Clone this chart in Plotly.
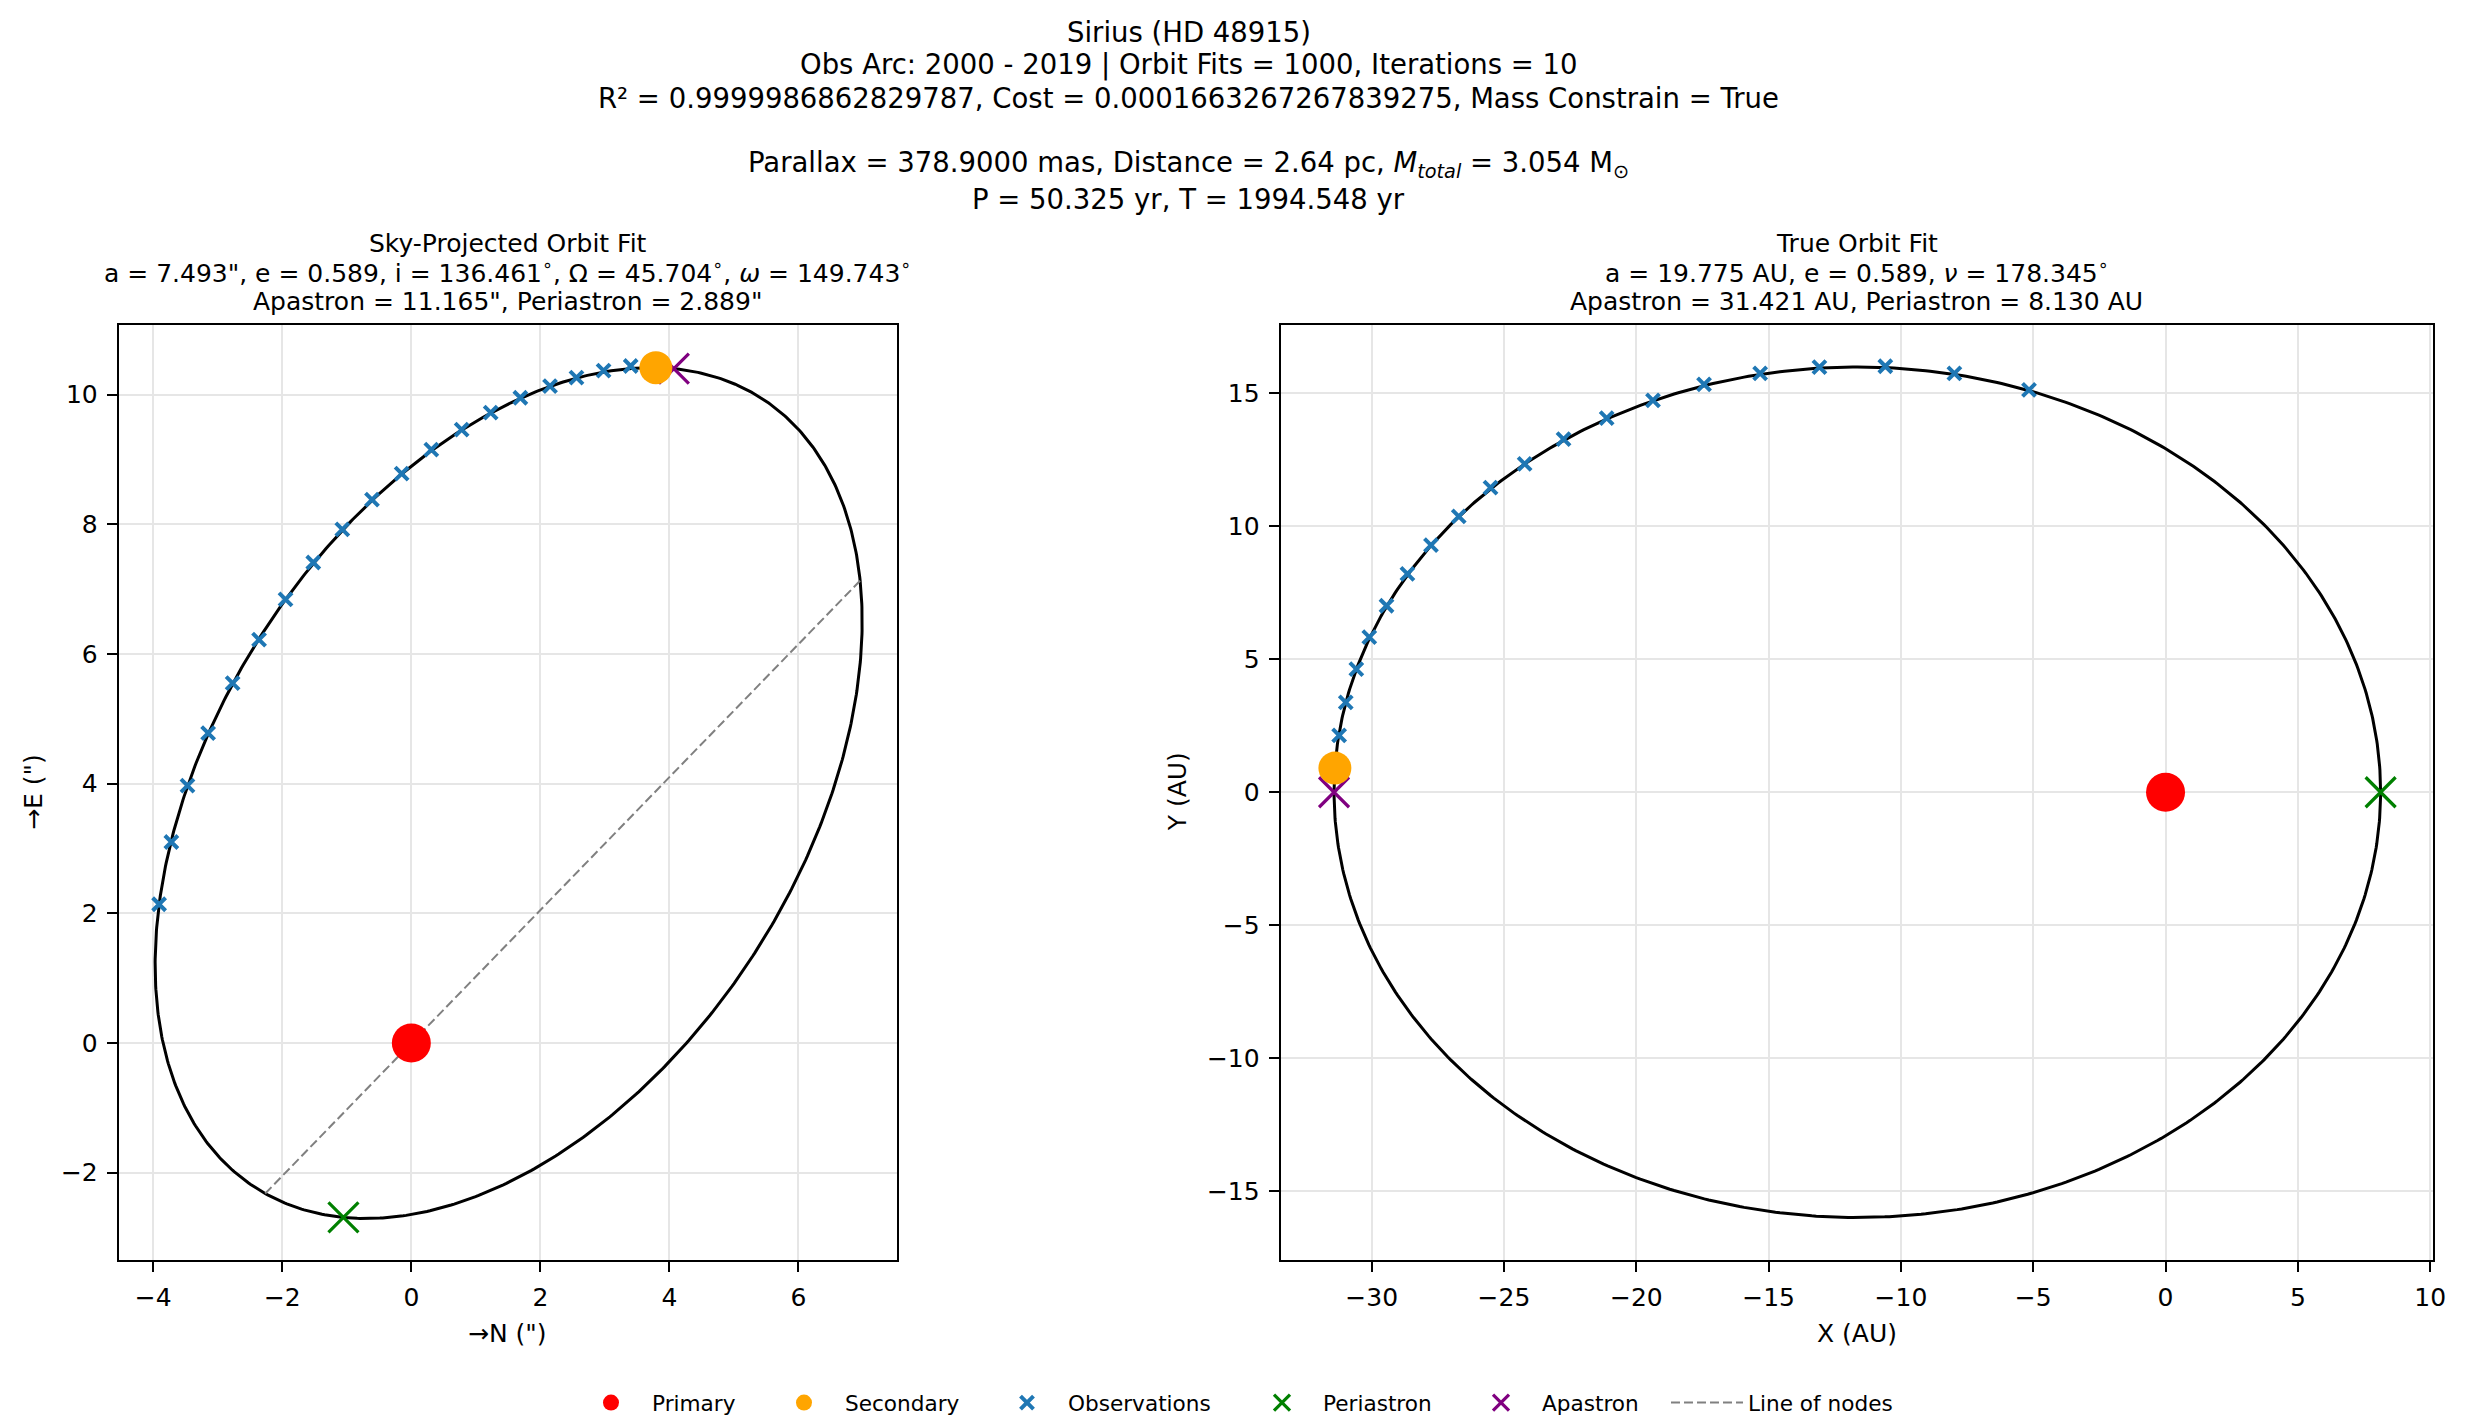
import numpy as np
import plotly.graph_objects as go

# ---------------- data ----------------
star_name = "Sirius (HD 48915)"
obs_arc = (2000, 2019)
orbit_fits = 1000
iterations = 10
r_squared = "0.9999986862829787"
cost_value = "0.0001663267267839275"
mass_constrain = True
parallax_mas = 378.9
distance_pc = 2.64
m_total = 3.054
period_yr = 50.325
t_peri_yr = 1994.548

# orbital elements
a_arcsec = 7.493
a_au = 19.775
ecc = 0.589
inc_deg = 136.461
Omega_deg = 45.704
omega_deg = 149.743
nu_deg = 178.345
apastron_arcsec = 11.165
periastron_arcsec = 2.889
apastron_au = 31.421
periastron_au = 8.130

# observations, sky plane (arcsec)
obs_north = [-3.91, -3.72, -3.47, -3.15, -2.77, -2.36, -1.95, -1.52, -1.07, -0.61,
             -0.15, 0.31, 0.78, 1.23, 1.69, 2.15, 2.56, 2.98, 3.40]
obs_east = [2.14, 3.10, 3.97, 4.78, 5.55, 6.22, 6.84, 7.41, 7.92, 8.38,
            8.78, 9.15, 9.46, 9.72, 9.95, 10.13, 10.26, 10.37, 10.44]

# observations, true orbit plane (AU)
obs_x_au = [-31.23, -30.98, -30.58, -30.09, -29.44, -28.65, -27.76, -26.71, -25.51, -24.22,
            -22.75, -21.12, -19.37, -17.44, -15.32, -13.08, -10.59, -7.98, -5.16]
obs_y_au = [2.14, 3.38, 4.63, 5.83, 7.01, 8.21, 9.29, 10.37, 11.45, 12.34,
            13.27, 14.06, 14.73, 15.33, 15.74, 15.98, 16.01, 15.74, 15.12]

primary_pos = (0.0, 0.0)

# ---------------- model curves from the elements ----------------
inc = np.radians(inc_deg)
Om = np.radians(Omega_deg)
om = np.radians(omega_deg)
A = np.cos(om) * np.cos(Om) - np.sin(om) * np.sin(Om) * np.cos(inc)
B = np.cos(om) * np.sin(Om) + np.sin(om) * np.cos(Om) * np.cos(inc)
F = -np.sin(om) * np.cos(Om) - np.cos(om) * np.sin(Om) * np.cos(inc)
G = -np.sin(om) * np.sin(Om) + np.cos(om) * np.cos(Om) * np.cos(inc)


def plane_from_nu(nu):
    r = (1 - ecc ** 2) / (1 + ecc * np.cos(nu))
    return r * np.cos(nu), r * np.sin(nu)


def sky(X, Y):
    return a_arcsec * (A * X + F * Y), a_arcsec * (B * X + G * Y)


E = np.linspace(0, 2 * np.pi, 721)
Xu = np.cos(E) - ecc
Yu = np.sqrt(1 - ecc ** 2) * np.sin(E)
sky_n, sky_e = sky(Xu, Yu)
true_x, true_y = a_au * Xu, a_au * Yu

peri_n, peri_e = sky(1 - ecc, 0.0)
apo_n, apo_e = sky(-(1 + ecc), 0.0)
nu_s = np.radians(nu_deg)
Xs, Ys = plane_from_nu(nu_s)
sec_n, sec_e = sky(Xs, Ys)
sec_x, sec_y = a_au * Xs, a_au * Ys

node_pts = [sky(*plane_from_nu(v)) for v in (np.pi - om, -om)]
node_n = [p[0] for p in node_pts]
node_e = [p[1] for p in node_pts]

# ---------------- figure ----------------
W, H = 2481, 1427
FONT = "DejaVu Sans"
OBS_C = "#1f77b4"

fig = go.Figure()

# left panel
fig.add_trace(go.Scatter(x=sky_n, y=sky_e, mode="lines", line=dict(color="black", width=3),
                         showlegend=False, hoverinfo="skip", xaxis="x", yaxis="y"))
fig.add_trace(go.Scatter(x=node_n, y=node_e, mode="lines", name="Line of nodes", legendrank=6, legendwidth=165,
                         line=dict(color="#808080", width=2, dash="9px,4px"), xaxis="x", yaxis="y"))
fig.add_trace(go.Scatter(x=obs_north, y=obs_east, mode="markers", name="Observations", legendrank=3, legendwidth=168,
                         marker=dict(symbol="x-thin", size=13, color=OBS_C, line=dict(width=4, color=OBS_C)),
                         xaxis="x", yaxis="y"))
fig.add_trace(go.Scatter(x=[peri_n], y=[peri_e], mode="markers", name="Periastron", legendrank=4, legendwidth=132,
                         marker=dict(symbol="x-thin", size=30, color="green", line=dict(width=3.2, color="green")),
                         xaxis="x", yaxis="y"))
fig.add_trace(go.Scatter(x=[apo_n], y=[apo_e], mode="markers", name="Apastron", legendrank=5, legendwidth=119,
                         marker=dict(symbol="x-thin", size=30, color="purple", line=dict(width=3.2, color="purple")),
                         xaxis="x", yaxis="y"))
fig.add_trace(go.Scatter(x=[primary_pos[0]], y=[primary_pos[1]], mode="markers", name="Primary", legendrank=1,
                         legendwidth=106,
                         marker=dict(symbol="circle", size=39, color="red", line=dict(width=0)),
                         xaxis="x", yaxis="y"))
fig.add_trace(go.Scatter(x=[sec_n], y=[sec_e], mode="markers", name="Secondary", legendrank=2, legendwidth=136,
                         marker=dict(symbol="circle", size=33, color="orange", line=dict(width=0)),
                         xaxis="x", yaxis="y"))

# right panel
fig.add_trace(go.Scatter(x=true_x, y=true_y, mode="lines", line=dict(color="black", width=3),
                         showlegend=False, hoverinfo="skip", xaxis="x2", yaxis="y2"))
fig.add_trace(go.Scatter(x=obs_x_au, y=obs_y_au, mode="markers", showlegend=False,
                         marker=dict(symbol="x-thin", size=13, color=OBS_C, line=dict(width=4, color=OBS_C)),
                         xaxis="x2", yaxis="y2"))
fig.add_trace(go.Scatter(x=[a_au * (1 - ecc)], y=[0], mode="markers", showlegend=False,
                         marker=dict(symbol="x-thin", size=30, color="green", line=dict(width=3.2, color="green")),
                         xaxis="x2", yaxis="y2"))
fig.add_trace(go.Scatter(x=[-a_au * (1 + ecc)], y=[0], mode="markers", showlegend=False,
                         marker=dict(symbol="x-thin", size=30, color="purple", line=dict(width=3.2, color="purple")),
                         xaxis="x2", yaxis="y2"))
fig.add_trace(go.Scatter(x=[primary_pos[0]], y=[primary_pos[1]], mode="markers", showlegend=False,
                         marker=dict(symbol="circle", size=39, color="red", line=dict(width=0)),
                         xaxis="x2", yaxis="y2"))
fig.add_trace(go.Scatter(x=[sec_x], y=[sec_y], mode="markers", showlegend=False,
                         marker=dict(symbol="circle", size=33, color="orange", line=dict(width=0)),
                         xaxis="x2", yaxis="y2"))

axis_common = dict(showgrid=True, gridcolor="#e6e6e6", gridwidth=2, zeroline=False,
                   showline=True, linecolor="black", linewidth=2, mirror=True,
                   ticks="outside", ticklen=10, tickwidth=2, tickcolor="black",
                   tickfont=dict(size=25, color="black", family=FONT), ticklabelstandoff=4)

ydom = [1 - 1260 / H, 1 - 324.5 / H]
fig.update_layout(
    width=W, height=H, margin=dict(l=0, r=0, t=0, b=0),
    paper_bgcolor="white", plot_bgcolor="white",
    font=dict(family=FONT, color="black"),
    xaxis=dict(domain=[119.4 / W, 901.7 / W], range=[-4.535, 7.528], tick0=0, dtick=2, anchor="y", **axis_common),
    yaxis=dict(domain=ydom, range=[-3.346, 11.08], tick0=0, dtick=2, anchor="x", **axis_common),
    xaxis2=dict(domain=[1287.4 / W, 2445.9 / W], range=[-33.44, 10.11], tick0=0, dtick=5, anchor="y2", **axis_common),
    yaxis2=dict(domain=ydom, range=[-17.58, 17.58], tick0=0, dtick=5, anchor="x2", **axis_common),
    legend=dict(orientation="h", x=573 / W, xanchor="left", y=1 - 1403 / H, yanchor="middle",
                font=dict(size=21.6, family=FONT, color="black"), bgcolor="rgba(0,0,0,0)",
                itemwidth=72, traceorder="normal"),
    showlegend=True,
)


def ann(text, xpx, ypx, size, angle=0):
    fig.add_annotation(text=text, x=xpx / W, y=1 - ypx / H, xref="paper", yref="paper",
                       xanchor="center", yanchor="middle", showarrow=False, textangle=angle,
                       font=dict(size=size, family=FONT, color="black"))


deg = "<sup>∘</sup>"
title_lines = [
    (star_name, 31.7),
    (f"Obs Arc: {obs_arc[0]} - {obs_arc[1]} | Orbit Fits = {orbit_fits}, Iterations = {iterations}", 65.0),
    (f"R² = {r_squared}, Cost = {cost_value}, Mass Constrain = {mass_constrain}", 97.5),
    (f"Parallax = {parallax_mas:.4f} mas, Distance = {distance_pc:.2f} pc, <i>M</i><sub><i>total</i></sub> = {m_total:.3f} M<sub>⊙</sub>", 165.0),
    (f"P = {period_yr:.3f} yr, T = {t_peri_yr:.3f} yr", 198.5),
]
for txt, yp in title_lines:
    ann(txt, 1195, yp, 27.5)

left_c, right_c = 510.5, 1866.6
left_title = [
    ("Sky-Projected Orbit Fit", 243.3),
    (f"a = {a_arcsec:.3f}\", e = {ecc:.3f}, i = {inc_deg:.3f}{deg}, Ω = {Omega_deg:.3f}{deg}, <i>ω</i> = {omega_deg:.3f}{deg}", 271.0),
    (f"Apastron = {apastron_arcsec:.3f}\", Periastron = {periastron_arcsec:.3f}\"", 301.7),
]
right_title = [
    ("True Orbit Fit", 243.3),
    (f"a = {a_au:.3f} AU, e = {ecc:.3f}, <i>ν</i> = {nu_deg:.3f}{deg}", 271.0),
    (f"Apastron = {apastron_au:.3f} AU, Periastron = {periastron_au:.3f} AU", 301.7),
]
for txt, yp in left_title:
    ann(txt, left_c, yp, 25)
for txt, yp in right_title:
    ann(txt, right_c, yp, 25)

ann("→N (\")", left_c, 1333, 25)
ann("X (AU)", right_c, 1333, 25)
ann("→E (\")", 33, 792, 25, angle=-90)
ann("Y (AU)", 1183.5, 792, 25, angle=-90)

fig.write_html("out.html")
